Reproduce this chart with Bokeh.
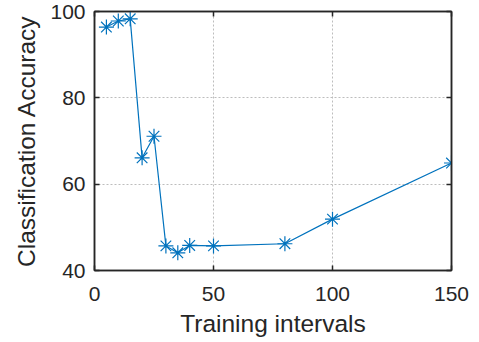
from bokeh.plotting import figure
from bokeh.models import Range1d, LinearAxis, FixedTicker
from bokeh.embed import file_html
from bokeh.resources import INLINE

intervals = [5, 10, 15, 20, 25, 30, 35, 40, 50, 80, 100, 150]
accuracy = [96.4, 97.8, 98.3, 66.1, 71.1, 45.7, 44.1, 45.8, 45.7, 46.2, 51.9, 64.9]
x_ticks = [0, 50, 100, 150]
y_ticks = [40, 60, 80, 100]

FONT = "Liberation Sans"
AX = "#262626"
BLUE = "#0072BD"

p = figure(width=479, height=342, output_backend="svg", toolbar_location=None,
           x_range=Range1d(0, 150), y_range=Range1d(40, 100),
           min_border_left=94, min_border_right=28, min_border_top=11, min_border_bottom=72,
           x_axis_label="Training intervals", y_axis_label="Classification Accuracy")
p.outline_line_color = AX
p.outline_line_width = 1.5

p.line(intervals, accuracy, line_color=BLUE, line_width=1.2)
p.scatter(intervals, accuracy, marker="asterisk", size=15, line_color=BLUE, line_width=1.2)

for ax, ticks in ((p.xaxis[0], x_ticks), (p.yaxis[0], y_ticks)):
    ax.ticker = FixedTicker(ticks=ticks)
    ax.axis_line_color = AX
    ax.axis_line_width = 1.5
    ax.major_tick_in = 5
    ax.major_tick_out = 0
    ax.major_tick_line_color = AX
    ax.major_tick_line_width = 1.5
    ax.minor_tick_line_color = None
    ax.major_label_text_font = FONT
    ax.major_label_text_font_size = "21px"
    ax.major_label_text_color = AX
    ax.axis_label_text_font = FONT
    ax.axis_label_text_font_size = "24.5px"
    ax.axis_label_text_font_style = "normal"
    ax.axis_label_text_color = AX

p.xaxis[0].major_label_standoff = 16
p.yaxis[0].major_label_standoff = 9
p.xaxis[0].axis_label_standoff = 6
p.yaxis[0].axis_label_standoff = 7

blank_x = {t: "" for t in x_ticks}
blank_y = {t: "" for t in y_ticks}
top = LinearAxis(ticker=FixedTicker(ticks=x_ticks), major_label_overrides=blank_x,
                 major_tick_in=5, major_tick_out=0, major_tick_line_color=AX, major_tick_line_width=1.5,
                 minor_tick_line_color=None, axis_line_color=AX, axis_line_width=1.5)
right = LinearAxis(ticker=FixedTicker(ticks=y_ticks), major_label_overrides=blank_y,
                   major_tick_in=5, major_tick_out=0, major_tick_line_color=AX, major_tick_line_width=1.5,
                   minor_tick_line_color=None, axis_line_color=AX, axis_line_width=1.5)
p.add_layout(top, "above")
p.add_layout(right, "right")

for g, ticks in ((p.xgrid[0], x_ticks), (p.ygrid[0], y_ticks)):
    g.ticker = FixedTicker(ticks=ticks)
    g.grid_line_color = "#bdbdbd"
    g.grid_line_dash = "2 2"
    g.grid_line_width = 1

open("out.html", "w").write(file_html(p, INLINE))
